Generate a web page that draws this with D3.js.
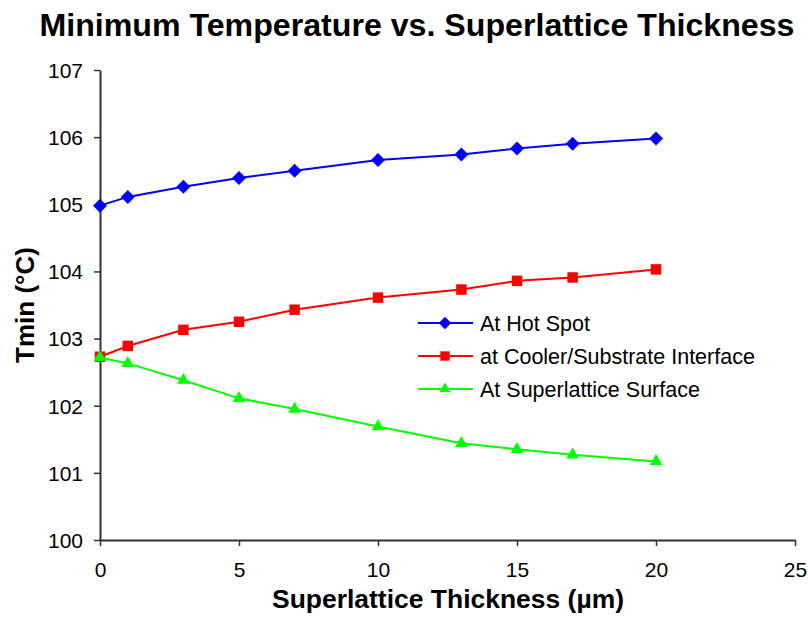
<!DOCTYPE html>
<html>
<head>
<meta charset="utf-8">
<script src="https://cdn.jsdelivr.net/npm/d3@7/dist/d3.min.js"></script>
<style>
  html, body { margin: 0; padding: 0; background: #fff; }
  svg { display: block; font-family: "Liberation Sans", Arial, sans-serif; }
</style>
</head>
<body>
<svg id="chart" width="808" height="617"></svg>
<script>
// Superlattice thickness (µm) and minimum temperatures (°C)
const thickness = [0, 1, 3, 5, 7, 10, 13, 15, 17, 20];
const hotSpot   = [104.98, 105.11, 105.26, 105.39, 105.50, 105.66, 105.74, 105.83, 105.90, 105.98];
const cooler    = [102.73, 102.89, 103.13, 103.25, 103.43, 103.61, 103.73, 103.86, 103.91, 104.03];
const surface   = [102.72, 102.63, 102.38, 102.11, 101.95, 101.69, 101.44, 101.35, 101.27, 101.17];

const seriesNames = ["At Hot Spot", "at Cooler/Substrate Interface", "At Superlattice Surface"];
const xTicks = [0, 5, 10, 15, 20, 25];
const yTicks = [100, 101, 102, 103, 104, 105, 106, 107];

const series = [
  { name: seriesNames[0], values: hotSpot, color: "#0000ff", symbol: d3.symbolDiamond2, size: 125 },
  { name: seriesNames[1], values: cooler,  color: "#ff0000", symbol: d3.symbolSquare2,  size: 140 },
  { name: seriesNames[2], values: surface, color: "#00ff00", symbol: d3.symbolTriangle2, size: 115 }
];

const svg = d3.select("#chart");
const plot = { left: 100, right: 795, top: 70, bottom: 540 };

const x = d3.scaleLinear().domain([0, 25]).range([plot.left, plot.right]);
const y = d3.scaleLinear().domain([100, 107]).range([plot.bottom, plot.top]);

const axisColor = "#333";

// Axes
const gx = svg.append("g")
  .attr("transform", `translate(0,${plot.bottom})`)
  .call(d3.axisBottom(x).tickValues(xTicks).tickFormat(d3.format("d"))
    .tickSize(6).tickSizeOuter(0).tickPadding(16));
const gy = svg.append("g")
  .attr("transform", `translate(${plot.left},0)`)
  .call(d3.axisLeft(y).tickValues(yTicks).tickFormat(d3.format("d"))
    .tickSize(6).tickSizeOuter(0).tickPadding(11));

[gx, gy].forEach(g => {
  g.select(".domain").attr("stroke", axisColor).attr("stroke-width", 2);
  g.selectAll(".tick line").attr("stroke", axisColor).attr("stroke-width", 1.5);
  g.selectAll(".tick text")
    .attr("fill", "#000")
    .attr("font-size", 21)
    .attr("font-family", "Liberation Sans, Arial, sans-serif");
});
gy.selectAll(".tick text").attr("dy", "0.35em");

// Series lines and markers
const line = d3.line()
  .x((d, i) => x(thickness[i]))
  .y(d => y(d));

series.forEach(s => {
  svg.append("path")
    .datum(s.values)
    .attr("fill", "none")
    .attr("stroke", s.color)
    .attr("stroke-width", 2)
    .attr("d", line);

  const sym = d3.symbol().type(s.symbol).size(s.size);
  svg.append("g").selectAll("path")
    .data(s.values)
    .join("path")
    .attr("transform", (d, i) => `translate(${x(thickness[i])},${y(d)})`)
    .attr("d", sym)
    .attr("fill", s.color);
});

// Legend
const legend = svg.append("g").attr("transform", "translate(418,323)");
series.forEach((s, i) => {
  const row = legend.append("g").attr("transform", `translate(0,${i * 33})`);
  row.append("line")
    .attr("x1", 0).attr("x2", 55).attr("y1", 0).attr("y2", 0)
    .attr("stroke", s.color).attr("stroke-width", 2);
  row.append("path")
    .attr("transform", "translate(27,0)")
    .attr("d", d3.symbol().type(s.symbol).size(s.size * 0.8)())
    .attr("fill", s.color);
  row.append("text")
    .attr("x", 62).attr("y", 0).attr("dy", "0.35em")
    .attr("font-size", 21.5)
    .attr("fill", "#000")
    .text(s.name);
});

// Titles
svg.append("text")
  .attr("x", 417).attr("y", 36)
  .attr("text-anchor", "middle")
  .attr("font-size", 31).attr("font-weight", "bold")
  .attr("textLength", 755).attr("lengthAdjust", "spacingAndGlyphs")
  .text("Minimum Temperature vs. Superlattice Thickness");

svg.append("text")
  .attr("x", 448).attr("y", 608)
  .attr("text-anchor", "middle")
  .attr("font-size", 26).attr("font-weight", "bold")
  .attr("textLength", 352).attr("lengthAdjust", "spacingAndGlyphs")
  .text("Superlattice Thickness (µm)");

svg.append("text")
  .attr("transform", "translate(34,305) rotate(-90)")
  .attr("text-anchor", "middle")
  .attr("font-size", 26).attr("font-weight", "bold")
  .text("Tmin (°C)");
</script>
</body>
</html>
